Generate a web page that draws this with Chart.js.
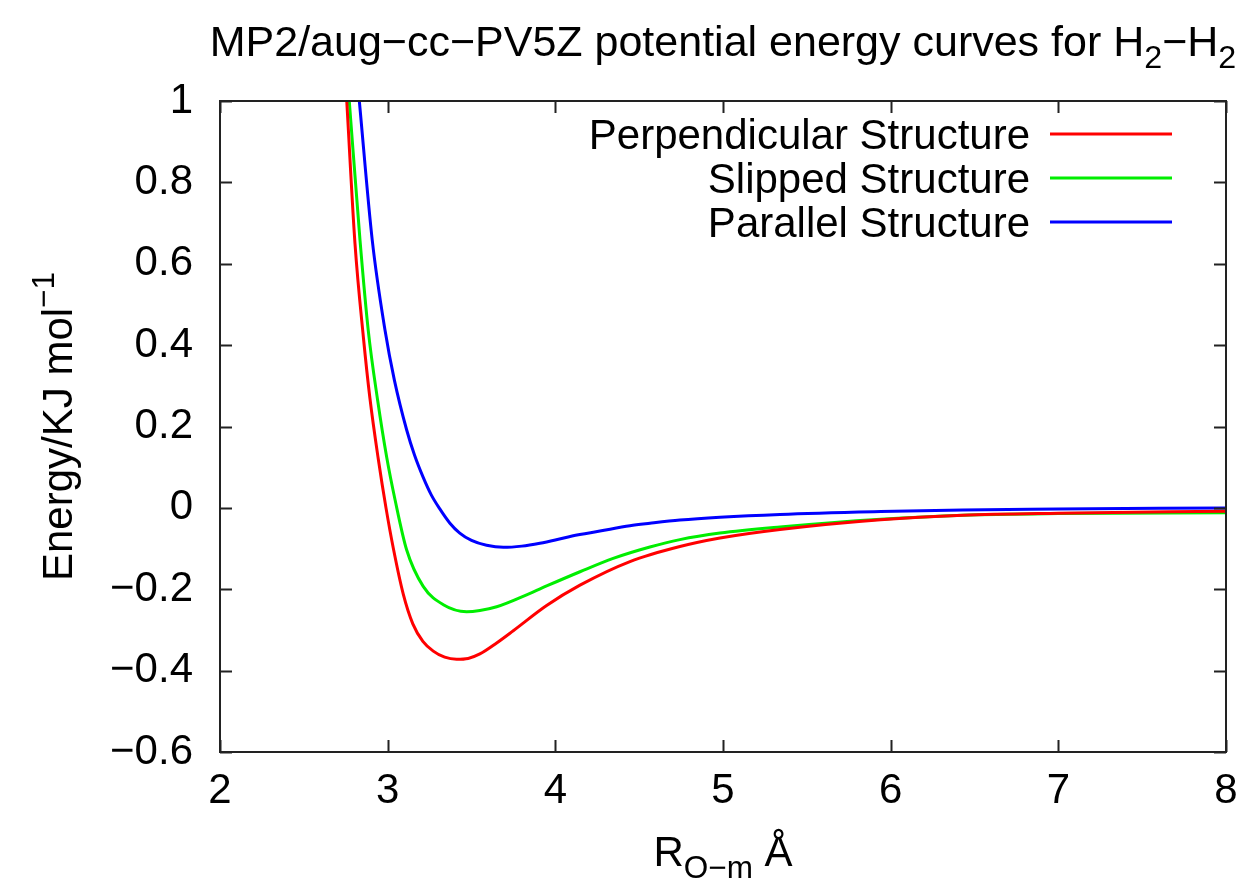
<!DOCTYPE html>
<html>
<head>
<meta charset="utf-8">
<script src="https://cdn.jsdelivr.net/npm/chart.js@4.4.1/dist/chart.umd.min.js"></script>
<style>
  html, body { margin: 0; padding: 0; background: #fff; }
  #wrap { width: 1247px; height: 886px; }
</style>
</head>
<body>
<div id="wrap"><canvas id="chart" width="1247" height="886"></canvas></div>
<script>
// Curves (R in Angstrom, energy in kJ/mol)
const perpX = [2.756, 2.805, 2.855, 2.894, 2.944, 2.990, 3.034, 3.093, 3.150, 3.210, 3.272, 3.340, 3.411, 3.480, 3.550, 3.650, 3.749, 3.948, 4.147, 4.445, 4.743, 4.982, 5.34, 5.94, 6.43, 7.0, 8.0];
const perpY = [1.0, 0.650, 0.420, 0.270, 0.120, 0.000, -0.100, -0.212, -0.285, -0.328, -0.352, -0.367, -0.372, -0.370, -0.359, -0.332, -0.302, -0.240, -0.190, -0.132, -0.095, -0.074, -0.053, -0.029, -0.018, -0.013, -0.008];

const slipX = [2.771, 2.835, 2.884, 2.940, 2.994, 3.044, 3.113, 3.212, 3.332, 3.471, 3.550, 3.650, 3.849, 3.948, 4.147, 4.345, 4.564, 4.743, 4.982, 5.34, 5.94, 6.43, 7.0, 8.0];
const slipY = [1.0, 0.658, 0.437, 0.265, 0.125, 0.020, -0.103, -0.193, -0.238, -0.255, -0.252, -0.243, -0.210, -0.192, -0.157, -0.124, -0.096, -0.078, -0.062, -0.047, -0.028, -0.018, -0.014, -0.012];

const paraX = [2.831, 2.908, 2.984, 3.040, 3.113, 3.160, 3.212, 3.260, 3.310, 3.370, 3.430, 3.500, 3.590, 3.690, 3.800, 3.908, 4.000, 4.100, 4.266, 4.445, 4.564, 4.743, 4.982, 5.34, 5.94, 6.43, 7.0, 8.0];
const paraY = [1.0, 0.658, 0.437, 0.314, 0.192, 0.130, 0.075, 0.032, -0.002, -0.037, -0.062, -0.080, -0.092, -0.097, -0.094, -0.087, -0.079, -0.069, -0.057, -0.044, -0.038, -0.030, -0.023, -0.016, -0.009, -0.005, -0.003, 0.000];

const seriesNames = ['Perpendicular Structure', 'Slipped Structure', 'Parallel Structure'];
const seriesColors = ['#ff0000', '#00ee00', '#0000ff'];

const xTickValues = [2, 3, 4, 5, 6, 7, 8];
const yTickValues = [-0.6, -0.4, -0.2, 0, 0.2, 0.4, 0.6, 0.8, 1];
const yTickLabels = ['\u22120.6', '\u22120.4', '\u22120.2', '0', '0.2', '0.4', '0.6', '0.8', '1'];

const FONT = '"Liberation Sans", Arial, sans-serif';
const FS = 42;

function zip(xs, ys) {
  return xs.map((x, i) => ({ x: x, y: ys[i] }));
}

// draws a run of text pieces, some of them sub/superscript
function richText(ctx, parts, x, y, align, size) {
  const fs = size || FS;
  const widths = parts.map(p => {
    ctx.font = (p.s ? fs * 0.75 : fs) + 'px ' + FONT;
    return ctx.measureText(p.t).width;
  });
  const total = widths.reduce((a, b) => a + b, 0);
  let cx = align === 'center' ? x - total / 2 : align === 'right' ? x - total : x;
  parts.forEach((p, i) => {
    ctx.font = (p.s ? fs * 0.75 : fs) + 'px ' + FONT;
    let dy = 0;
    if (p.s === 'sub') dy = fs * 0.28;
    if (p.s === 'sup') dy = -fs * 0.42;
    ctx.fillText(p.t, cx, y + dy);
    cx += widths[i];
  });
}

const gnuplotLook = {
  id: 'gnuplotLook',
  afterDatasetsDraw(chart) {
    const ctx = chart.ctx;
    const a = chart.chartArea;
    const xs = chart.scales.x, ys = chart.scales.y;
    ctx.save();
    ctx.strokeStyle = '#222';
    ctx.lineWidth = 2;
    // inward ticks on all four sides
    const tl = 12;
    ctx.beginPath();
    xTickValues.forEach(v => {
      const px = Math.round(xs.getPixelForValue(v)) + 0.5;
      ctx.moveTo(px, a.bottom); ctx.lineTo(px, a.bottom - tl);
      ctx.moveTo(px, a.top); ctx.lineTo(px, a.top + tl);
    });
    yTickValues.forEach(v => {
      const py = Math.round(ys.getPixelForValue(v)) + 0.5;
      ctx.moveTo(a.left, py); ctx.lineTo(a.left + tl, py);
      ctx.moveTo(a.right, py); ctx.lineTo(a.right - tl, py);
    });
    ctx.stroke();
    ctx.strokeRect(a.left, a.top, a.right - a.left, a.bottom - a.top);

    // key, gnuplot style: text right aligned, sample line after it
    ctx.fillStyle = '#000';
    ctx.textBaseline = 'alphabetic';
    chart.data.datasets.forEach((ds, i) => {
      const cy = 134 + i * 44;
      richText(ctx, [{ t: ds.label }], 1030, cy + 15, 'right');
      ctx.strokeStyle = ds.borderColor;
      ctx.lineWidth = 3;
      ctx.beginPath();
      ctx.moveTo(1050, cy); ctx.lineTo(1172, cy);
      ctx.stroke();
    });
    ctx.restore();
  },
  afterDraw(chart) {
    const ctx = chart.ctx;
    const a = chart.chartArea;
    const mid = (a.left + a.right) / 2;
    ctx.save();
    ctx.fillStyle = '#000';
    ctx.textBaseline = 'alphabetic';
    richText(ctx, [
      { t: 'MP2/aug\u2212cc\u2212PV5Z potential energy curves for H' },
      { t: '2', s: 'sub' },
      { t: '\u2212H' },
      { t: '2', s: 'sub' }
    ], mid, 56, 'center', 43);
    richText(ctx, [
      { t: 'R' },
      { t: 'O\u2212m', s: 'sub' },
      { t: ' \u00c5' }
    ], mid, 866, 'center');
    ctx.translate(72, (a.top + a.bottom) / 2);
    ctx.rotate(-Math.PI / 2);
    richText(ctx, [
      { t: 'Energy/KJ mol' },
      { t: '\u22121', s: 'sup' }
    ], 0, 0, 'center');
    ctx.restore();
  }
};

const ctx = document.getElementById('chart').getContext('2d');
new Chart(ctx, {
  type: 'scatter',
  data: {
    datasets: [
      { label: seriesNames[0], data: zip(perpX, perpY), borderColor: seriesColors[0] },
      { label: seriesNames[1], data: zip(slipX, slipY), borderColor: seriesColors[1] },
      { label: seriesNames[2], data: zip(paraX, paraY), borderColor: seriesColors[2] }
    ].map(d => Object.assign(d, {
      showLine: true,
      borderWidth: 3,
      pointRadius: 0,
      cubicInterpolationMode: 'monotone',
      fill: false
    }))
  },
  options: {
    responsive: false,
    animation: false,
    layout: { padding: { top: 101, right: 21, left: 0, bottom: 0 } },
    plugins: {
      legend: { display: false },
      tooltip: { enabled: false }
    },
    scales: {
      x: {
        type: 'linear',
        min: 2, max: 8,
        afterBuildTicks: s => { s.ticks = xTickValues.map(v => ({ value: v })); },
        afterFit: s => { s.height = 886 - 752; s.paddingLeft = 0; s.paddingRight = 0; },
        grid: { display: false, drawTicks: false },
        border: { display: false },
        ticks: {
          color: '#000',
          padding: 14,
          maxRotation: 0,
          font: { family: FONT, size: FS },
          callback: v => String(v)
        }
      },
      y: {
        type: 'linear',
        min: -0.6, max: 1,
        afterBuildTicks: s => { s.ticks = yTickValues.map(v => ({ value: v })); },
        afterFit: s => { s.width = 220; s.paddingTop = 0; s.paddingBottom = 0; },
        grid: { display: false, drawTicks: false },
        border: { display: false },
        ticks: {
          color: '#000',
          padding: 27,
          font: { family: FONT, size: FS },
          callback: (v, i) => yTickLabels[i]
        }
      }
    }
  },
  plugins: [gnuplotLook]
});
</script>
</body>
</html>
